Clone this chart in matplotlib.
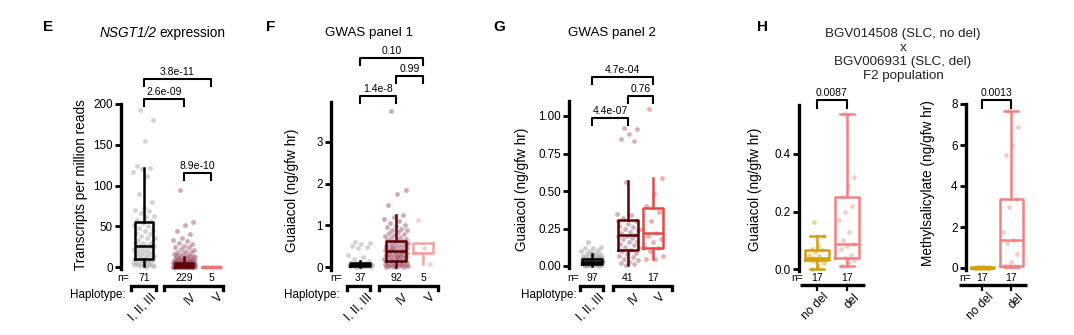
import numpy as np
import matplotlib.pyplot as plt
import matplotlib.transforms as mtransforms
from matplotlib.ticker import FormatStrFormatter

plt.rcParams['font.family'] = ['Liberation Sans', 'DejaVu Sans']

W, H = 1074, 335

# ---------------- data ----------------
haplotypes = ["I, II, III", "IV", "V"]
genotypes = ["no del", "del"]
h_title = ["BGV014508 (SLC, no del)", "x", "BGV006931 (SLC, del)", "F2 population"]

# box stats: (whisker low, q1, median, q3, whisker high)
# E: NSGT1/2 expression, transcripts per million reads
e_n = [71, 229, 5]
e_box = [(1, 10, 26, 55, 121), (0, 0.5, 2, 5, 12), (0, 0, 0, 0, 0)]
e_pts_1 = [193, 180, 155, 124, 122, 120, 117, 112, 90, 80,
           72, 70, 69, 66, 63, 61, 58, 56, 54, 52,
           50, 48, 46, 44, 42, 40, 38, 36, 35, 33,
           31, 30, 29, 28, 27, 26, 26, 25, 24, 23,
           22, 21, 20, 19, 18, 17, 16, 15, 14, 13,
           12, 11, 10, 10, 9, 8, 8, 7, 6, 6,
           5, 5, 4, 4, 3, 3, 2, 2, 1, 1, 0.5]
e_pts_4 = [95, 55, 52, 44, 40, 35, 33, 32, 30, 28, 26, 25, 24, 22, 21, 20, 19, 18, 17, 16,
           15, 15, 14, 14, 13, 13, 12, 12, 11, 11, 10, 10, 10, 9, 9, 9, 8, 8, 8, 8,
           7, 7, 7, 7, 6, 6, 6, 6, 6, 6, 5, 5, 5, 5, 5, 5, 5, 5, 5, 5,
           4.8, 4.5, 4.2, 4, 3.8, 3.5, 3.2, 3, 2.8, 2.5, 2.2, 2, 1.8, 1.5, 1.2, 1, 0.8, 0.5, 0.3, 0.1,
           4.6, 4.3, 4.1, 3.9, 3.6, 3.3, 3.1, 2.9, 2.6, 2.3, 2.1, 1.9, 1.6, 1.3, 1.1, 0.9, 0.6, 0.4, 0.2, 0,
           4.4, 3.7, 3.4, 2.7, 2.4, 1.7, 1.4, 0.7, 0.2, 0.1, 4.7, 3.4, 2.1, 1.2, 0.6, 0.3, 0.1, 0, 0, 0,
           3.9, 3.1, 2.6, 2.2, 1.8, 1.4, 1.0, 0.7, 0.4, 0.2, 4.2, 3.6, 2.9, 2.4, 1.9, 1.3, 0.9, 0.5, 0.2, 0]
e_pts_5 = [0.2, 0.4, 0.1, 0.3, 0.5]
e_sig = [(0, 1, 206, "2.6e-09"), (0, 2, 231, "3.8e-11"), (1, 2, 115, "8.9e-10")]

# F: GWAS panel 1, guaiacol (ng/gfw hr)
f_n = [37, 92, 5]
f_box = [(0.0, 0.03, 0.06, 0.1, 0.14), (0.0, 0.15, 0.38, 0.63, 1.25), (0.08, 0.33, 0.33, 0.58, 0.58)]
f_pts_1 = [0.6, 0.58, 0.55, 0.5, 0.48, 0.45, 0.3, 0.25, 0.2, 0.15, 0.12, 0.1, 0.1, 0.09, 0.08,
           0.08, 0.07, 0.07, 0.07, 0.06, 0.06, 0.06, 0.05, 0.05, 0.05, 0.04, 0.04, 0.04, 0.03,
           0.03, 0.03, 0.02, 0.02, 0.02, 0.01, 0.01, 0.0]
f_pts_4 = [3.75, 1.85, 1.75, 1.5, 1.25, 1.2, 1.15, 1.1, 1.05, 1.0, 0.98, 0.95, 0.92, 0.9, 0.88,
           0.85, 0.82, 0.8, 0.78, 0.75, 0.72, 0.7, 0.68, 0.66, 0.64, 0.62, 0.6, 0.58, 0.56, 0.55,
           0.53, 0.52, 0.5, 0.49, 0.48, 0.46, 0.45, 0.44, 0.42, 0.41, 0.4, 0.39, 0.38, 0.38, 0.37,
           0.36, 0.35, 0.34, 0.33, 0.32, 0.31, 0.3, 0.29, 0.28, 0.27, 0.26, 0.25, 0.24, 0.23, 0.22,
           0.21, 0.2, 0.19, 0.18, 0.17, 0.16, 0.15, 0.15, 0.14, 0.13, 0.12, 0.11, 0.1, 0.09, 0.08,
           0.07, 0.06, 0.05, 0.05, 0.04, 0.04, 0.03, 0.03, 0.02, 0.02, 0.01, 0.01, 0.0, 0.3, 0.45,
           0.55, 0.25]
f_pts_5 = [1.12, 0.58, 0.45, 0.33, 0.08]
f_sig = [(0, 1, 4.10, "1.4e-8"), (1, 2, 4.58, "0.99"), (0, 2, 5.02, "0.10")]

# G: GWAS panel 2, guaiacol (ng/gfw hr)
g_n = [97, 41, 17]
g_box = [(0.0, 0.015, 0.03, 0.045, 0.08), (0.01, 0.105, 0.205, 0.31, 0.565), (0.045, 0.12, 0.22, 0.385, 0.585)]
g_pts_1 = [0.16, 0.13, 0.12, 0.12, 0.11, 0.1, 0.1, 0.09, 0.09, 0.08, 0.08, 0.07, 0.07, 0.07,
           0.06, 0.06, 0.06, 0.055, 0.05, 0.05, 0.05, 0.045, 0.045, 0.04, 0.04, 0.04, 0.04,
           0.035, 0.035, 0.035, 0.03, 0.03, 0.03, 0.03, 0.03, 0.025, 0.025, 0.025, 0.02, 0.02,
           0.02, 0.02, 0.015, 0.015, 0.015, 0.01, 0.01, 0.01, 0.005, 0.005, 0.0, 0.0, 0.03,
           0.02, 0.04, 0.01, 0.025, 0.035, 0.015, 0.05]
g_pts_4 = [0.92, 0.915, 0.88, 0.85, 0.835, 0.56, 0.35, 0.34, 0.32, 0.3, 0.28, 0.27, 0.26, 0.25,
           0.24, 0.23, 0.22, 0.21, 0.2, 0.2, 0.19, 0.18, 0.17, 0.16, 0.15, 0.14, 0.13, 0.12, 0.11,
           0.1, 0.09, 0.08, 0.07, 0.06, 0.05, 0.04, 0.03, 0.02, 0.015, 0.01, 0.3]
g_pts_5 = [1.05, 0.585, 0.48, 0.4, 0.36, 0.3, 0.25, 0.22, 0.2, 0.18, 0.16, 0.13, 0.12, 0.1,
           0.07, 0.05, 0.045]
g_sig = [(0, 1, 0.987, "4.4e-07"), (1, 2, 1.133, "0.76"), (0, 2, 1.26, "4.7e-04")]

# H: F2 population
h_n = [17, 17]
h1_box = [(0.0, 0.03, 0.037, 0.065, 0.115), (0.012, 0.04, 0.088, 0.25, 0.54)]
h1_pts_nodel = [0.165, 0.115, 0.08, 0.07, 0.065, 0.06, 0.05, 0.045, 0.04, 0.035, 0.035, 0.03,
                0.03, 0.028, 0.02, 0.01, 0.0]
h1_pts_del = [0.54, 0.32, 0.29, 0.25, 0.22, 0.2, 0.17, 0.13, 0.1, 0.088, 0.08, 0.07, 0.05,
              0.04, 0.03, 0.02, 0.012]
h1_sig = [(0, 1, 0.588, "0.0087")]
h2_box = [(0.0, 0.01, 0.02, 0.03, 0.05), (0.05, 0.1, 1.35, 3.35, 7.65)]
h2_pts_nodel = [0.05, 0.04, 0.03, 0.03, 0.02, 0.02, 0.02, 0.01, 0.01, 0.01, 0.01, 0.0, 0.0,
                0.0, 0.0, 0.03, 0.02]
h2_pts_del = [7.65, 6.9, 6.0, 5.5, 3.35, 3.0, 1.75, 1.35, 1.2, 0.7, 0.3, 0.1, 0.1, 0.08, 0.06,
              0.05, 0.05]
h2_sig = [(0, 1, 8.2, "0.0013")]

# ---------------- colours ----------------
dark = "#5c0306"
c_e = ["black", dark, "#f07272"]
c_f = ["black", dark, "#f4a3a3"]
c_g = ["black", dark, "#e04a4a"]
c_h = ["#d2a00e", "#f08282"]
pt_e = ["#a8a8a8", "#a0566a", "#f07272"]
pt_f = ["#a8a8a8", "#a0566a", "#f4a3a3"]
pt_g = ["#909090", "#a0566a", "#e04a4a"]
pt_h = ["#e0b030", "#f4a0a0"]

fig = plt.figure(figsize=(W / 100, H / 100), dpi=100)


def fx(px):
    return px / W


def fy(py):
    return 1 - py / H


def make_axes(spine_px, right_px, cal, ylim, yticks, fmt=None):
    (v0, p0), (v1, p1) = cal
    s = (p0 - p1) / (v1 - v0)
    bottom_px = p0 + (v0 - ylim[0]) * s
    top_px = p0 - (ylim[1] - v0) * s
    ax = fig.add_axes([fx(spine_px), fy(bottom_px), (right_px - spine_px) / W,
                       (bottom_px - top_px) / H])
    ax.set_xlim(spine_px, right_px)
    ax.set_ylim(*ylim)
    ax.patch.set_alpha(0)
    for k in ["top", "right", "bottom"]:
        ax.spines[k].set_visible(False)
    ax.spines["left"].set_linewidth(2.4)
    ax.set_yticks(yticks)
    if fmt:
        ax.yaxis.set_major_formatter(FormatStrFormatter(fmt))
    ax.tick_params(axis="y", width=2.0, length=4, labelsize=8.4, pad=2)
    ax.set_xticks([])
    return ax


def jitter(n, width):
    return ((np.arange(n) * 0.618034 + 0.31) % 1 - 0.5) * width


def draw_groups(ax, xs, boxes, pts, colors, pcolors, width, jw, alpha, caps=False):
    for x, b, p, c, pc in zip(xs, boxes, pts, colors, pcolors):
        st = dict(whislo=b[0], q1=b[1], med=b[2], q3=b[3], whishi=b[4], fliers=[])
        lp = dict(color=c, lw=1.8)
        ax.bxp([st], positions=[x], widths=width, showfliers=False, showcaps=caps,
               capwidths=width * 0.6, boxprops=lp, whiskerprops=lp, medianprops=lp,
               capprops=lp, manage_ticks=False, zorder=4)
        ax.scatter(x + jitter(len(p), jw), p, s=12, color=pc, alpha=alpha, lw=0,
                   zorder=3, clip_on=False)
    for a in ax.lines:
        a.set_clip_on(False)


def sig(ax, xs, items, d):
    for i, j, y, label in items:
        x1, x2 = xs[i], xs[j]
        ax.plot([x1, x1, x2, x2], [y - d, y, y, y - d], color="black", lw=1.5,
                clip_on=False)
        ax.annotate(label, ((x1 + x2) / 2, y), xytext=(0, 1.3), textcoords="offset points",
                    ha="center", va="bottom", fontsize=7.5, annotation_clip=False)


def bottom(ax, xs, ns, n_x, labels, brackets=None, line=None):
    tr = mtransforms.blended_transform_factory(ax.transData, fig.transFigure)
    ax.text(n_x, fy(278), "n=", transform=tr, ha="center", va="center", fontsize=7.5)
    for x, n in zip(xs, ns):
        ax.text(x, fy(278), str(n), transform=tr, ha="center", va="center", fontsize=7.5)
    if brackets:
        for a, b in brackets:
            ax.plot([a, a, b, b], [fy(290), fy(286), fy(286), fy(290)], transform=tr,
                    lw=2.4, color="black", clip_on=False, solid_joinstyle="miter")
    if line:
        ax.plot(line, [fy(285), fy(285)], transform=tr, lw=2.4, color="black",
                clip_on=False, solid_capstyle="butt")
        for x in xs:
            ax.plot([x, x], [fy(285), fy(290)], transform=tr, lw=1.6, color="black",
                    clip_on=False)
    for x, lab in zip(xs, labels):
        ax.text(x + 6, fy(291), lab, transform=tr, rotation=45, rotation_mode="anchor",
                ha="right", va="top", fontsize=8.6)


def ylabel(x, y, text):
    fig.text(fx(x), fy(y), text, rotation=90, ha="center", va="center", fontsize=9.8)


# ---------------- panel E ----------------
xs_e = [144, 184, 211]
ax = make_axes(121, 232, ((0, 267), (200, 104)), (-3, 200), [0, 50, 100, 150, 200])
draw_groups(ax, xs_e, e_box, [e_pts_1, e_pts_4, e_pts_5], c_e, pt_e, 18, 22, 0.5)
sig(ax, xs_e, e_sig, 8.6)
bottom(ax, xs_e, e_n, 123, haplotypes, brackets=[(131, 156), (164, 223)])
ylabel(81, 185, "Transcripts per million reads")
fig.text(fx(48), fy(27), "E", fontsize=11, fontweight="bold", ha="center", va="center")
fig.text(fx(157), fy(33), "NSGT1/2", fontstyle="italic", fontsize=9.8, ha="right", va="center")
fig.text(fx(159), fy(33), "expression", fontsize=9.8, ha="left", va="center")
fig.text(fx(126), fy(295), "Haplotype:", fontsize=8.4, ha="right", va="center")

# ---------------- panel F ----------------
xs_f = [360, 396, 423]
ax = make_axes(331, 442, ((0, 267), (3, 142)), (-0.06, 3.95), [0, 1, 2, 3])
draw_groups(ax, xs_f, f_box, [f_pts_1, f_pts_4, f_pts_5], c_f, pt_f, 20, 24, 0.5)
sig(ax, xs_f, f_sig, 0.17)
bottom(ax, xs_f, f_n, 336, haplotypes, brackets=[(347, 370), (379, 438)])
ylabel(292, 190, "Guaiacol (ng/gfw hr)")
fig.text(fx(271), fy(27), "F", fontsize=11, fontweight="bold", ha="center", va="center")
fig.text(fx(369), fy(33), "GWAS panel 1", fontsize=9.6, ha="center", va="center")
fig.text(fx(340), fy(295), "Haplotype:", fontsize=8.4, ha="right", va="center")

# ---------------- panel G ----------------
xs_g = [592, 628, 653]
ax = make_axes(569, 675, ((0, 266), (1, 116)), (-0.015, 1.1), [0, 0.25, 0.5, 0.75, 1.0], "%.2f")
draw_groups(ax, xs_g, g_box, [g_pts_1, g_pts_4, g_pts_5], c_g, pt_g, 20, 22, 0.45)
sig(ax, xs_g, g_sig, 0.045)
bottom(ax, xs_g, g_n, 573, haplotypes, brackets=[(580, 603), (613, 672)])
ylabel(522, 189, "Guaiacol (ng/gfw hr)")
fig.text(fx(499), fy(27), "G", fontsize=11, fontweight="bold", ha="center", va="center")
fig.text(fx(612), fy(33), "GWAS panel 2", fontsize=9.6, ha="center", va="center")
fig.text(fx(577), fy(295), "Haplotype:", fontsize=8.4, ha="right", va="center")

# ---------------- panel H ----------------
xs_h1 = [817, 847]
ax = make_axes(799, 866, ((0, 269), (0.4, 154)), (-0.006, 0.572), [0, 0.2, 0.4], "%.1f")
draw_groups(ax, xs_h1, h1_box, [h1_pts_nodel, h1_pts_del], c_h, pt_h, 24, 16, 0.55, caps=True)
sig(ax, xs_h1, h1_sig, 0.028)
bottom(ax, xs_h1, h_n, 797, genotypes, line=(800, 865))
ylabel(755, 189, "Guaiacol (ng/gfw hr)")

xs_h2 = [982, 1011]
ax = make_axes(966, 1030, ((0, 268), (8, 104)), (-0.1, 8.0), [0, 2, 4, 6, 8])
draw_groups(ax, xs_h2, h2_box, [h2_pts_nodel, h2_pts_del], c_h, pt_h, 23, 16, 0.55, caps=True)
sig(ax, xs_h2, h2_sig, 0.39)
bottom(ax, xs_h2, h_n, 965, genotypes, line=(959, 1027))
ylabel(928, 183, "Methylsalicylate (ng/gfw hr)")

fig.text(fx(762), fy(27), "H", fontsize=11, fontweight="bold", ha="center", va="center")
for line_y, line_txt in zip([34, 48, 62, 76], h_title):
    fig.text(fx(903), fy(line_y), line_txt, fontsize=9.6, ha="center", va="center",
             color="#222222")

fig.savefig("out.png", dpi=100)
